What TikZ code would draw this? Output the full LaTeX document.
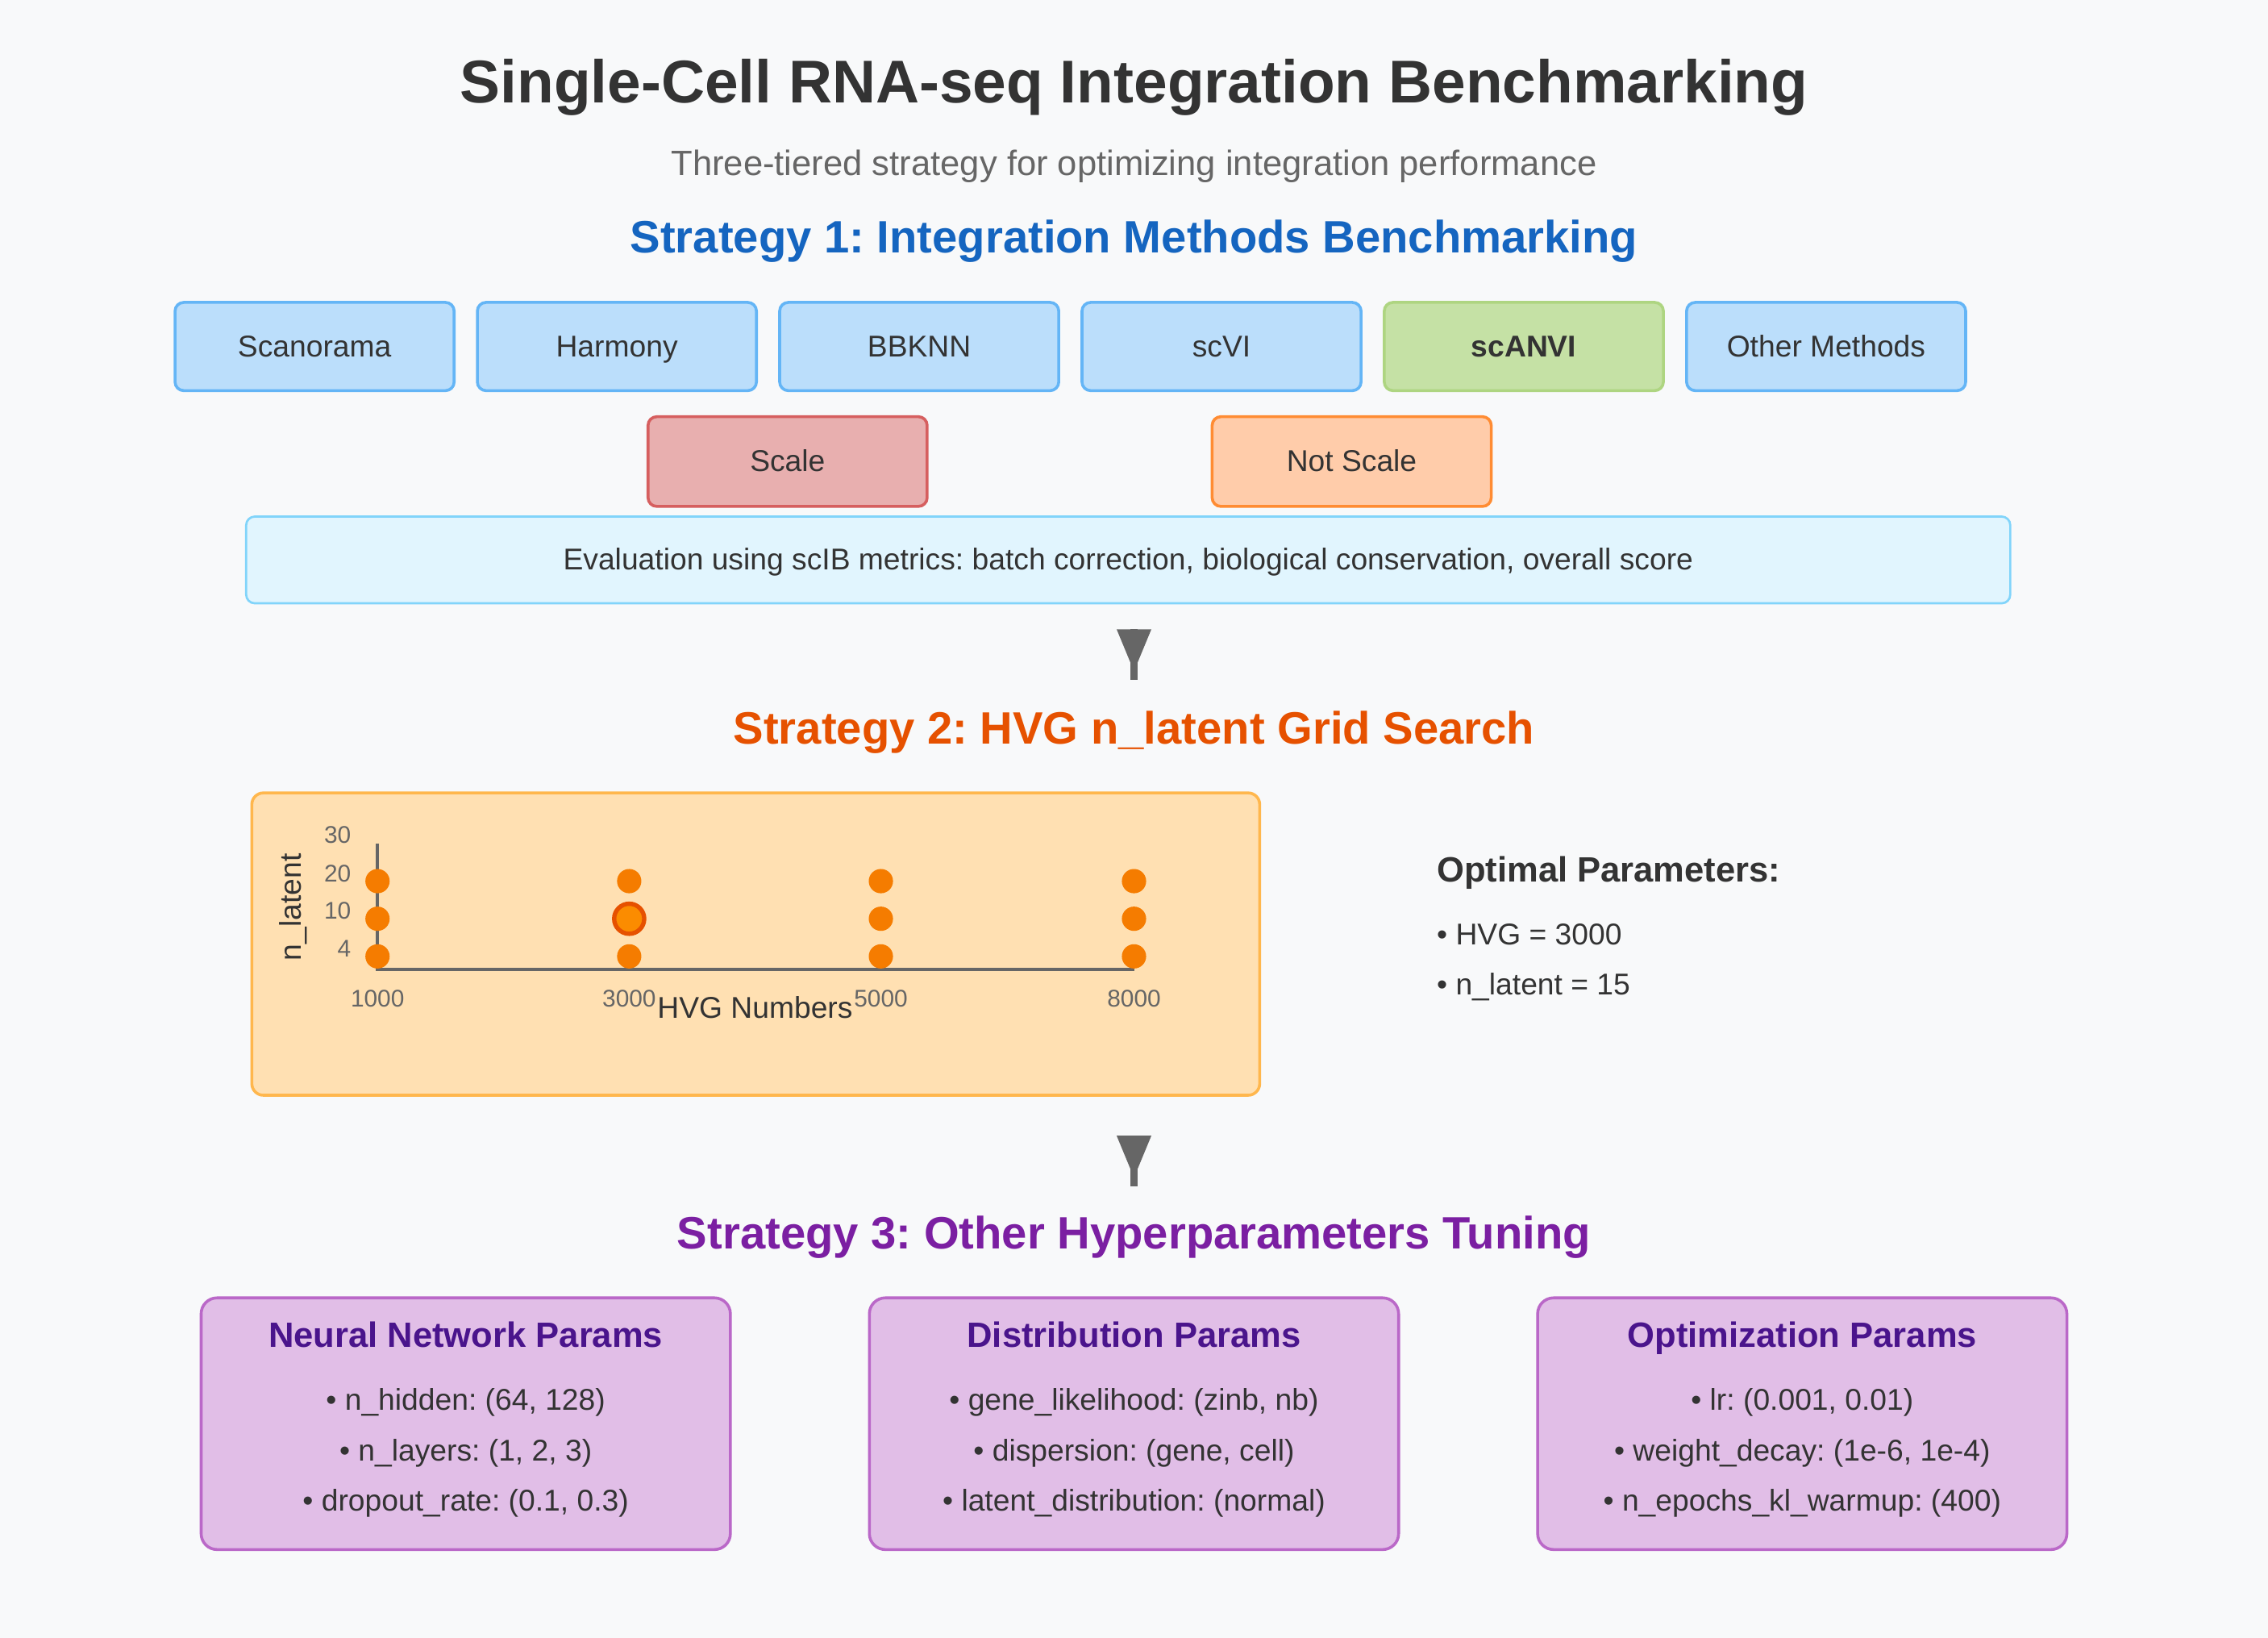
\documentclass[tikz,border=0pt]{standalone}
\usepackage{fontspec}
\setmainfont{Liberation Sans}
\usepackage{tikz}
\usetikzlibrary{arrows.meta}
\usepackage{xcolor}
\definecolor{pagebg}{HTML}{F8F9FA}
\definecolor{darktext}{HTML}{333333}
\definecolor{softtext}{HTML}{666666}
\definecolor{s1blue}{HTML}{1565C0}
\definecolor{s2orange}{HTML}{E65100}
\definecolor{s3purple}{HTML}{7B1FA2}
\definecolor{methodfill}{HTML}{BBDEFB}
\definecolor{methodline}{HTML}{64B5F6}
\definecolor{bestfill}{HTML}{C5E1A5}
\definecolor{bestline}{HTML}{AED581}
\definecolor{scalefill}{HTML}{E8AFAF}
\definecolor{scaleline}{HTML}{D65F5F}
\definecolor{noscalefill}{HTML}{FFCCAA}
\definecolor{noscaleline}{HTML}{FF8C33}
\definecolor{evalfill}{HTML}{E1F5FE}
\definecolor{evalline}{HTML}{81D4FA}
\definecolor{gridfill}{HTML}{FFE0B2}
\definecolor{gridline}{HTML}{FFB74D}
\definecolor{dotcolor}{HTML}{F57C00}
\definecolor{hlfill}{HTML}{FB8C00}
\definecolor{paramfill}{HTML}{E1BEE7}
\definecolor{paramline}{HTML}{BA68C8}
\definecolor{paramtitle}{HTML}{4A148C}

\newdimen\upx \upx=0.5104pt
\frenchspacing

\tikzset{
  bodyfont/.style={font=\fontsize{10.6pt}{12.7pt}\selectfont},
  basebox/.style={line width=2\upx, rounded corners=6\upx, inner sep=0pt, text=darktext, bodyfont, text height=0.72em, text depth=0pt},
  methodbox/.style={basebox, draw=methodline, fill=methodfill, minimum width=193\upx, minimum height=61\upx},
  headtext/.style={font=\fontsize{16pt}{19pt}\selectfont\bfseries, inner sep=0pt, anchor=base},
  plaintext/.style={text=darktext, inner sep=0pt, bodyfont, anchor=base},
  ticktext/.style={text=softtext, inner sep=0pt, font=\fontsize{8.5pt}{10pt}\selectfont},
  parambox/.style={draw=paramline, fill=paramfill, line width=2\upx, rounded corners=11\upx, minimum width=366\upx, minimum height=174\upx},
  paramhead/.style={text=paramtitle, inner sep=0pt, anchor=base, font=\fontsize{12.4pt}{15pt}\selectfont\bfseries},
  flowarrow/.style={draw=softtext, line width=2.35pt,
    postaction={draw=softtext, fill=softtext, line width=0pt, -{Triangle[length=14.8pt, width=12.25pt, sep=3.1pt]}}}
}

\begin{document}
\begin{tikzpicture}[x=0.01794cm, y=-0.01794cm, >=Stealth]

  \fill[pagebg] (0,0) rectangle (1568,1132);

  % ---------- Header ----------
  \node[text=darktext, inner sep=0pt, anchor=base, font=\fontsize{21.3pt}{25pt}\selectfont\bfseries] (title) at (784,71) {Single-Cell RNA-seq Integration Benchmarking};
  \node[text=softtext, inner sep=0pt, anchor=base, font=\fontsize{12.4pt}{15pt}\selectfont] (subtitle) at (784,121.5) {Three-tiered strategy for optimizing integration performance};

  % ---------- Strategy 1: methods ----------
  \node[headtext, text=s1blue] (s1head) at (784,175) {Strategy 1: Integration Methods Benchmarking};

  \node[methodbox] (scanorama) at (217.5,239.5) {Scanorama};
  \node[methodbox] (harmony) at (426.5,239.5) {Harmony};
  \node[methodbox] (bbknn) at (635.5,239.5) {BBKNN};
  \node[methodbox] (scvi) at (844.5,239.5) {scVI};
  \node[methodbox, draw=bestline, fill=bestfill, font=\fontsize{10.6pt}{12.7pt}\selectfont\bfseries] (scanvi) at (1053.5,239.5) {scANVI};
  \node[methodbox] (othermethods) at (1262.5,239.5) {Other Methods};

  \node[methodbox, draw=scaleline, fill=scalefill, minimum height=62\upx] (scale) at (544.5,319) {Scale};
  \node[methodbox, draw=noscaleline, fill=noscalefill, minimum height=62\upx] (notscale) at (934.5,319) {Not Scale};

  \node[basebox, draw=evalline, fill=evalfill, line width=1.5\upx, minimum width=1220\upx, minimum height=60\upx] (eval) at (780,387) {Evaluation using scIB metrics: batch correction, biological conservation, overall score};

  \coordinate (arrowtop1) at (784,435);
  \coordinate (arrowend1) at (784,470);
  \draw[flowarrow] (arrowtop1) -- (arrowend1);

  % ---------- Strategy 2: grid search ----------
  \node[headtext, text=s2orange] (s2head) at (784,514) {Strategy 2: HVG n\_latent Grid Search};

  \node[draw=gridline, fill=gridfill, line width=2\upx, rounded corners=8\upx, minimum width=697\upx, minimum height=209\upx] (gridbox) at (522.5,652.5) {};

  \draw[softtext, line width=2\upx] (261,583) -- (261,670) -- (784,670);
  \foreach \hvg in {261,435,609,784}
    \foreach \lat in {609,635,661}
      \fill[dotcolor] (\hvg,\lat) circle[radius=8.4\upx];
  \draw[s2orange, fill=hlfill, line width=3\upx] (435,635) circle[radius=10.4\upx];

  \node[ticktext, anchor=base east] (tick30) at (243,583) {30};
  \node[ticktext, anchor=base east] (tick20) at (243,609.3) {20};
  \node[ticktext, anchor=base east] (tick10) at (243,635.4) {10};
  \node[ticktext, anchor=base east] (tick4) at (243,661.6) {4};
  \node[ticktext, anchor=base] (hvg1000) at (261,696) {1000};
  \node[ticktext, anchor=base] (hvg3000) at (435,696) {3000};
  \node[ticktext, anchor=base] (hvg5000) at (609,696) {5000};
  \node[ticktext, anchor=base] (hvg8000) at (784,696) {8000};
  \node[plaintext] (xlabel) at (522,704) {HVG Numbers};
  \node[plaintext, anchor=center, text height=0.72em, text depth=0.2em, rotate=90] (ylabel) at (203,627) {n\_latent};

  \node[anchor=base west, text=darktext, inner sep=0pt, font=\fontsize{12.4pt}{15pt}\selectfont\bfseries] (opthead) at (993,609.4) {Optimal Parameters:};
  \node[plaintext, anchor=base west] (opthvg) at (993,652.8) {\textbullet{} HVG = 3000};
  \node[plaintext, anchor=base west] (optlatent) at (993,687.4) {\textbullet{} n\_latent = 15};

  \coordinate (arrowtop2) at (784,785);
  \coordinate (arrowend2) at (784,820);
  \draw[flowarrow] (arrowtop2) -- (arrowend2);

  % ---------- Strategy 3: other hyperparameters ----------
  \node[headtext, text=s3purple] (s3head) at (784,863) {Strategy 3: Other Hyperparameters Tuning};

  \node[parambox] (nnbox) at (322,984) {};
  \node[paramhead] (nntitle) at (322,931) {Neural Network Params};
  \node[plaintext] (nnitema) at (322,974.5) {\textbullet{} n\_hidden: (64, 128)};
  \node[plaintext] (nnitemb) at (322,1010) {\textbullet{} n\_layers: (1, 2, 3)};
  \node[plaintext] (nnitemc) at (322,1044.5) {\textbullet{} dropout\_rate: (0.1, 0.3)};

  \node[parambox] (distbox) at (784,984) {};
  \node[paramhead] (disttitle) at (784,931) {Distribution Params};
  \node[plaintext] (distitema) at (784,974.5) {\textbullet{} gene\_likelihood: (zinb, nb)};
  \node[plaintext] (distitemb) at (784,1010) {\textbullet{} dispersion: (gene, cell)};
  \node[plaintext] (distitemc) at (784,1044.5) {\textbullet{} latent\_distribution: (normal)};

  \node[parambox] (optbox) at (1246,984) {};
  \node[paramhead] (opttitle) at (1246,931) {Optimization Params};
  \node[plaintext] (optitema) at (1246,974.5) {\textbullet{} lr: (0.001, 0.01)};
  \node[plaintext] (optitemb) at (1246,1010) {\textbullet{} weight\_decay: (1e-6, 1e-4)};
  \node[plaintext] (optitemc) at (1246,1044.5) {\textbullet{} n\_epochs\_kl\_warmup: (400)};

\end{tikzpicture}
\end{document}
